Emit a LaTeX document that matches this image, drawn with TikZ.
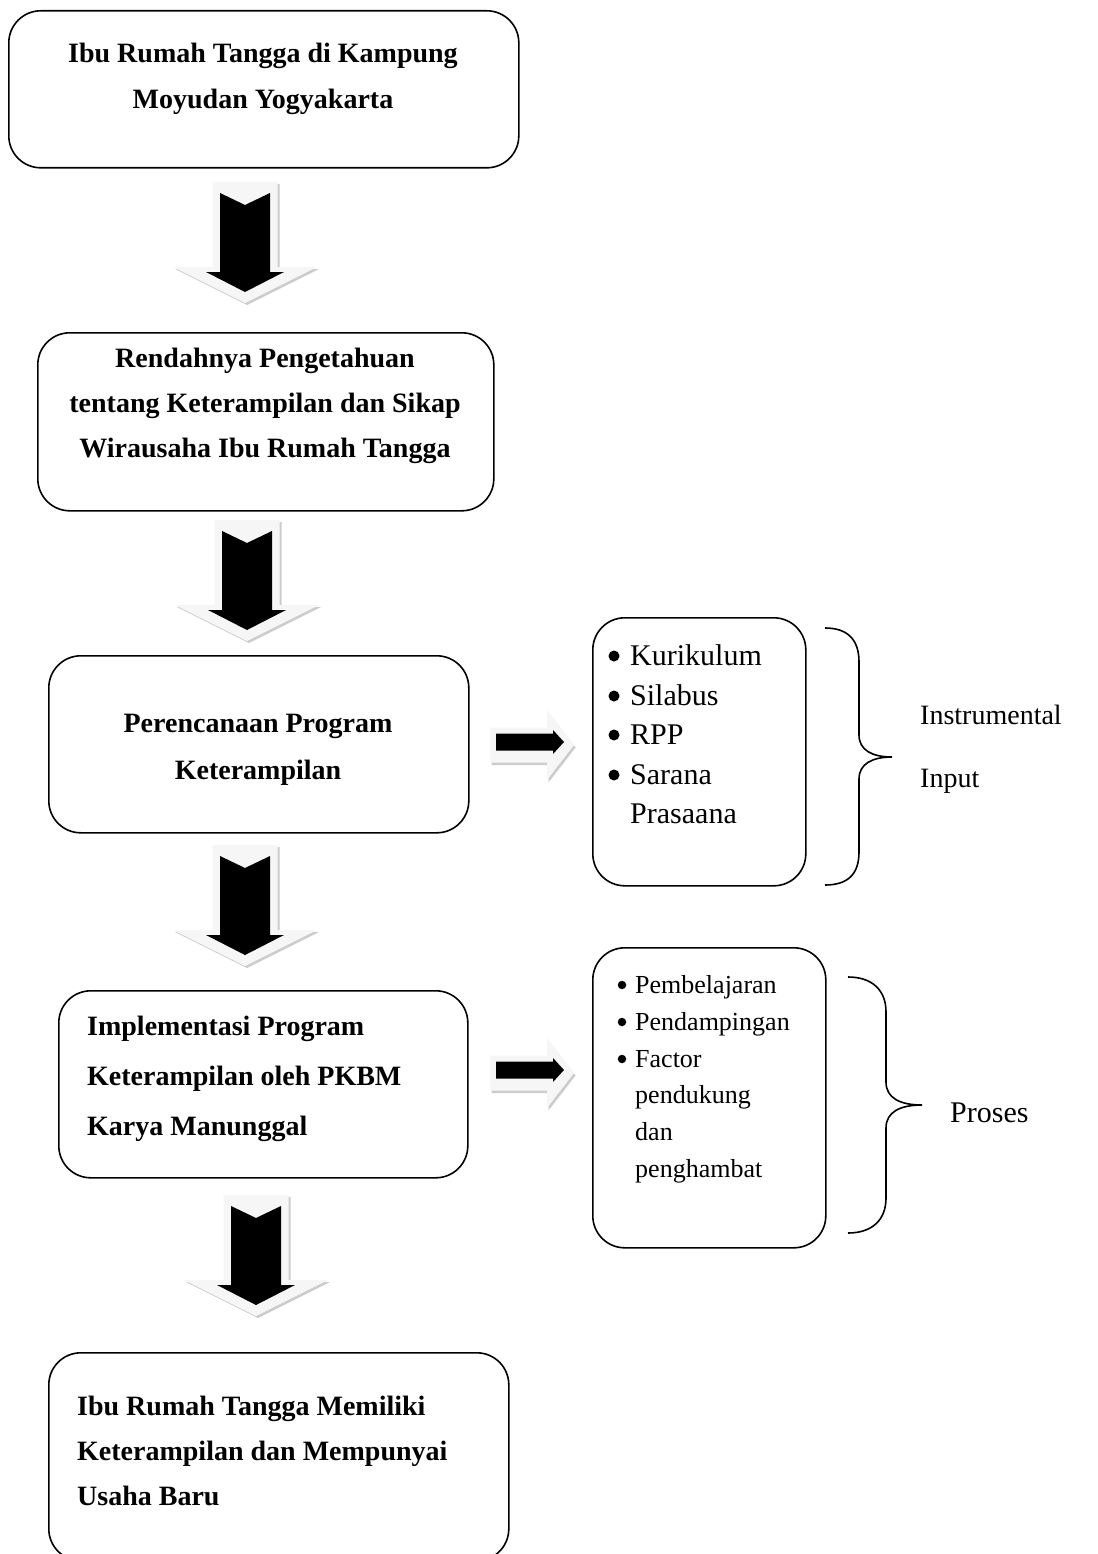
\documentclass[tikz,border=0pt]{standalone}
\usepackage{fontspec}
\setmainfont{Liberation Serif}
\tikzset{
  panel/.style={draw, line width=1.6pt, rounded corners=32pt, anchor=north west, inner sep=0pt},
  boxtext/.style={font=\fontsize{28}{46}\selectfont\bfseries, inner sep=0pt, anchor=north, align=center},
  itemA/.style={font=\fontsize{30}{36}\selectfont, inner sep=0pt, anchor=base west},
  itemB/.style={font=\fontsize{26}{32}\selectfont, inner sep=0pt, anchor=base west},
  dotA/.style={circle, fill, inner sep=0pt, minimum size=11pt},
  dotB/.style={circle, fill, inner sep=0pt, minimum size=8.5pt},
  side/.style={font=\fontsize{28}{34}\selectfont, inner sep=0pt, anchor=base west},
  brace/.style={line width=1.6pt}
}
% block arrow pointing down: centre x, top y
\newcommand{\dnarrow}[2]{%
  \begin{scope}[shift={(#1,#2)}]
    \fill[gray!40, shift={(2,2)}] (-32.5,0) -- (32.5,0) -- (32.5,85) -- (72,85) -- (0,121) -- (-72,85) -- (-32.5,85) -- cycle;
    \fill[gray!7] (-32.5,0) -- (32.5,0) -- (32.5,85) -- (72,85) -- (0,121) -- (-72,85) -- (-32.5,85) -- cycle;
    \fill[black] (-25,11) -- (0,23) -- (25,11) -- (25,90) -- (39,90) -- (0,110) -- (-39,90) -- (-25,90) -- cycle;
  \end{scope}}
% block arrow pointing right: left x, centre y
\newcommand{\rtarrow}[2]{%
  \begin{scope}[shift={(#1,#2)}]
    \fill[gray!40, shift={(1.5,2.5)}] (0,-17.5) -- (57,-17.5) -- (57,-35) -- (84,0) -- (57,35) -- (57,17.5) -- (0,17.5) -- cycle;
    \fill[gray!7] (0,-17.5) -- (57,-17.5) -- (57,-35) -- (84,0) -- (57,35) -- (57,17.5) -- (0,17.5) -- cycle;
    \fill[black] (6,-11.5) -- (63,-11.5) -- (63,-15) -- (74,-3) -- (63,9) -- (63,5.5) -- (6,5.5) -- cycle;
  \end{scope}}
\begin{document}
\begin{tikzpicture}[x=1pt,y=-1pt]
  \clip (0,0) rectangle (1097,1554);
  \fill[white] (0,0) rectangle (1097,1554);

  % main column
  \node[panel, minimum width=510pt, minimum height=157pt] (ibu) at (8,10) {};
  \node[boxtext] (ibuT) at (263,43) {Ibu Rumah Tangga di Kampung\\Moyudan Yogyakarta};

  \node[panel, minimum width=456pt, minimum height=178pt] (rendah) at (37,332) {};
  \node[boxtext, font=\fontsize{28}{45}\selectfont\bfseries] (rendahT) at (265,348)
    {Rendahnya Pengetahuan\\tentang Keterampilan dan Sikap\\Wirausaha Ibu Rumah Tangga};

  \node[panel, minimum width=420pt, minimum height=177pt] (rencana) at (48,655) {};
  \node[boxtext, font=\fontsize{28}{47}\selectfont\bfseries] (rencanaT) at (258,714)
    {Perencanaan Program\\Keterampilan};

  \node[panel, minimum width=409pt, minimum height=187pt] (impl) at (58,990) {};
  \node[boxtext, anchor=north west, align=left, font=\fontsize{28}{50}\selectfont\bfseries] (implT) at (87,1016)
    {Implementasi Program\\Keterampilan oleh PKBM\\Karya Manunggal};

  \node[panel, minimum width=460pt, minimum height=208pt] (hasil) at (48,1352) {};
  \node[boxtext, anchor=north west, align=left, font=\fontsize{28}{45}\selectfont\bfseries] (hasilT) at (77,1396)
    {Ibu Rumah Tangga Memiliki\\Keterampilan dan Mempunyai\\Usaha Baru};

  \dnarrow{245}{182}
  \dnarrow{247}{520}
  \dnarrow{245}{845}
  \dnarrow{256}{1195}

  % side boxes
  \node[panel, minimum width=213pt, minimum height=268pt] (input) at (592,617) {};
  \foreach \t/\y [count=\i] in {Kurikulum/665, Silabus/705, RPP/744, Sarana/784} {
    \node[dotA] (inB\i) at (614,\y-9) {};
    \node[itemA] (in\i) at (630,\y) {\t};
  }
  \node[itemA] (in5) at (630,823) {Prasaana};

  \node[panel, minimum width=233pt, minimum height=300pt] (proses) at (592,947) {};
  \foreach \t/\y [count=\i] in {Pembelajaran/993, Pendampingan/1030, Factor/1067} {
    \node[dotB] (prB\i) at (622,\y-8) {};
    \node[itemB] (pr\i) at (635,\y) {\t};
  }
  \node[itemB] (pr4) at (635,1103) {pendukung};
  \node[itemB] (pr5) at (635,1140) {dan};
  \node[itemB] (pr6) at (635,1177) {penghambat};

  \rtarrow{490}{745}
  \rtarrow{490}{1073}

  % braces
  \draw[brace] (825,628) .. controls (848,628) and (859,640) .. (859,662) -- (859,735)
    .. controls (859,750) and (872,757) .. (892,757)
    .. controls (872,757) and (859,764) .. (859,779) -- (859,852)
    .. controls (859,874) and (848,885) .. (825,885);
  \draw[brace] (848,977) .. controls (872,977) and (886,990) .. (886,1012) -- (886,1082)
    .. controls (886,1098) and (900,1105) .. (922,1105)
    .. controls (900,1105) and (886,1112) .. (886,1128) -- (886,1198)
    .. controls (886,1220) and (872,1233) .. (848,1233);

  \node[side] (instr) at (920,724) {Instrumental};
  \node[side] (inp) at (920,787) {Input};
  \node[side, font=\fontsize{30}{36}\selectfont] (pros) at (950,1122) {Proses};
\end{tikzpicture}
\end{document}
